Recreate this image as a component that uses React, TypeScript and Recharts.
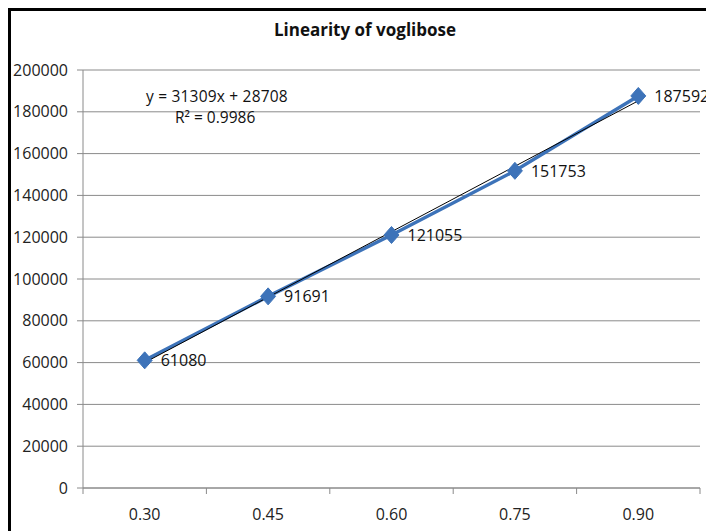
import React from "react";
import { LineChart, Line, XAxis, YAxis, CartesianGrid, LabelList } from "recharts";

const categories = ["0.30", "0.45", "0.60", "0.75", "0.90"];
const areaValues = [61080, 91691, 121055, 151753, 187592];
const trendValues = [60017, 91326, 122635, 153944, 185253];
const yTicks = [0, 20000, 40000, 60000, 80000, 100000, 120000, 140000, 160000, 180000, 200000];
const titleText = "Linearity of voglibose";
const equationText = "y = 31309x + 28708";
const r2Text = "R² = 0.9986";

const data = categories.map((c, i) => ({ x: c, area: areaValues[i], trend: trendValues[i] }));

const FONT = "'Open Sans', 'Liberation Sans', Arial, sans-serif";
const BLUE = "#3D73B9";
const AXIS = "#8a8a8a";

const Diamond = (props: any) => {
  const { cx, cy } = props;
  if (cx == null || cy == null) return null;
  return (
    <polygon
      points={`${cx},${cy - 8.5} ${cx + 7.5},${cy} ${cx},${cy + 8.5} ${cx - 7.5},${cy}`}
      fill={BLUE}
      stroke={BLUE}
      strokeWidth={1}
    />
  );
};

const XTick = (props: any) => {
  const { x, y, payload, index } = props;
  const half = payload && payload.offset ? payload.offset : 61.7;
  return (
    <g>
      <line x1={x + half} y1={y - 8} x2={x + half} y2={y - 2} stroke={AXIS} strokeWidth={1} />
      {index === 0 ? <line x1={x - half} y1={y - 8} x2={x - half} y2={y - 2} stroke={AXIS} strokeWidth={1} /> : null}
      <text x={x} y={y + 24} textAnchor="middle" fontFamily={FONT} fontSize={16} fill="#222">
        {payload.value}
      </text>
    </g>
  );
};

const ValueLabel = (props: any) => {
  const { x, y, value } = props;
  return (
    <text x={x + 16} y={y + 6} fontFamily={FONT} fontSize={16} fill="#111">
      {value}
    </text>
  );
};

export default function App() {
  return (
    <div style={{ position: "absolute", left: 0, top: 0, width: 706, height: 531, overflow: "hidden", background: "#fff" }}>
      <div
        style={{
          position: "absolute",
          left: 8,
          top: 8,
          width: 800,
          height: 600,
          border: "3px solid #000",
          boxSizing: "border-box",
        }}
      />
      <div
        style={{
          position: "absolute",
          left: 0,
          top: 18,
          width: 730,
          textAlign: "center",
          fontFamily: FONT,
          fontWeight: 700,
          fontSize: 17,
          color: "#111",
        }}
      >
        {titleText}
      </div>
      <div style={{ position: "absolute", left: 0, top: 0 }}>
        <LineChart width={706} height={531} data={data} margin={{ top: 70, right: 6, bottom: 0, left: 0 }}>
          <CartesianGrid vertical={false} stroke={AXIS} strokeWidth={1} />
          <XAxis
            dataKey="x"
            scale="band"
            height={43}
            axisLine={{ stroke: AXIS }}
            tickLine={false}
            tick={<XTick />}
            interval={0}
          />
          <YAxis
            width={83}
            domain={[0, 200000]}
            ticks={yTicks}
            interval={0}
            axisLine={{ stroke: AXIS }}
            tickLine={{ stroke: AXIS }}
            tickSize={6}
            tickMargin={9}
            tick={{ fontFamily: FONT, fontSize: 16, fill: "#222" }}
          />
          <Line
            dataKey="area"
            stroke={BLUE}
            strokeWidth={3.5}
            dot={<Diamond />}
            activeDot={false}
            isAnimationActive={false}
          >
            <LabelList dataKey="area" content={<ValueLabel />} />
          </Line>
          <Line dataKey="trend" stroke="#000" strokeWidth={1} dot={false} activeDot={false} isAnimationActive={false} />
        </LineChart>
      </div>
      <div style={{ position: "absolute", left: 146, top: 85, fontFamily: FONT, fontSize: 15.5, color: "#111", whiteSpace: "nowrap", letterSpacing: 0.2 }}>
        {equationText}
      </div>
      <div style={{ position: "absolute", left: 175, top: 106, fontFamily: FONT, fontSize: 15.5, color: "#111", whiteSpace: "nowrap" }}>
        {r2Text}
      </div>
    </div>
  );
}
